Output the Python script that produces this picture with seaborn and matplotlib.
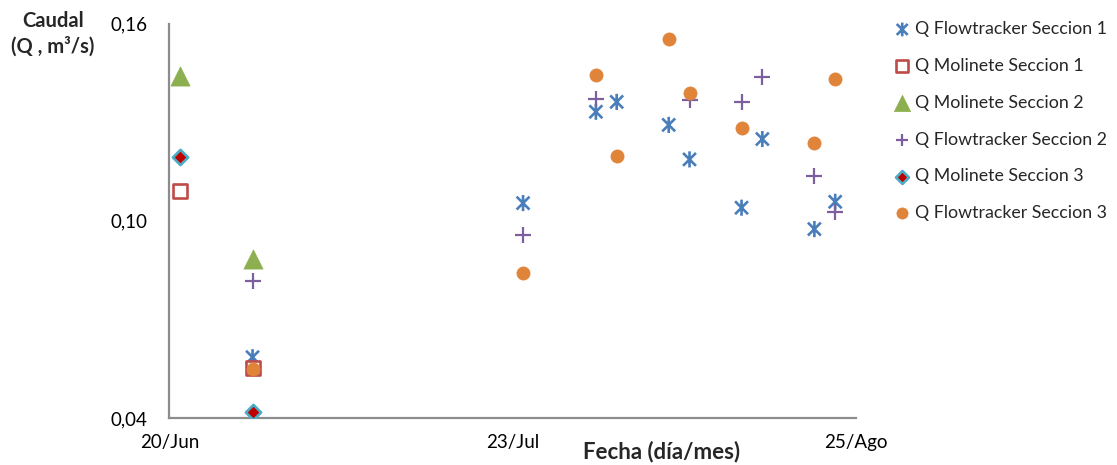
import numpy as np
import pandas as pd
import matplotlib
matplotlib.use("Agg")
import matplotlib.pyplot as plt
from matplotlib.path import Path
import seaborn as sns

# ---- data ----
year = 2013
start_date = "20/06"
end_date = "25/08"
xtick_labels = ["20/Jun", "23/Jul", "25/Ago"]
ytick_labels = ["0,04", "0,10", "0,16"]

ft1_dates = ["28/06", "24/07", "31/07", "02/08", "07/08", "09/08", "14/08", "16/08", "21/08", "23/08"]
ft1_vals = [0.0585, 0.1054, 0.1332, 0.1362, 0.1292, 0.1187, 0.1040, 0.1249, 0.0975, 0.1058]

mol1_dates = ["21/06", "28/06"]
mol1_vals = [0.1091, 0.0553]

mol2_dates = ["21/06", "28/06"]
mol2_vals = [0.1441, 0.0883]

ft2_dates = ["28/06", "24/07", "31/07", "09/08", "14/08", "16/08", "21/08", "23/08"]
ft2_vals = [0.0818, 0.0957, 0.1370, 0.1368, 0.1361, 0.1439, 0.1138, 0.1028]

mol3_dates = ["21/06", "28/06"]
mol3_vals = [0.1194, 0.0419]

ft3_dates = ["28/06", "24/07", "31/07", "02/08", "07/08", "09/08", "14/08", "21/08", "23/08"]
ft3_vals = [0.0549, 0.0841, 0.1444, 0.1198, 0.1553, 0.1390, 0.1284, 0.1237, 0.1432]

series_names = ["Q Flowtracker Seccion 1", "Q Molinete Seccion 1", "Q Molinete Seccion 2",
                "Q Flowtracker Seccion 2", "Q Molinete Seccion 3", "Q Flowtracker Seccion 3"]


def to_dt(s):
    return pd.to_datetime([f"{d}/{year}" for d in s], format="%d/%m/%Y")


t0 = to_dt([start_date])[0]
t1 = to_dt([end_date])[0]


def days(s):
    return np.asarray((to_dt(s) - t0).days, dtype=float)


span = (t1 - t0).days

# ---- style ----
sns.set_theme(style="white")
plt.rcParams["font.family"] = ["Lato", "DejaVu Sans"]

fig = plt.figure(figsize=(11.17, 4.65), dpi=100)
ax = fig.add_axes([169.3 / 1117, 1 - 418 / 465, (856 - 169.3) / 1117, (418 - 23.7) / 465])

ast_path = Path(
    [(0, -1), (0, 1), (-0.8, -0.8), (0.8, 0.8), (-0.8, 0.8), (0.8, -0.8)],
    [Path.MOVETO, Path.LINETO, Path.MOVETO, Path.LINETO, Path.MOVETO, Path.LINETO],
)

blue = "#4A7EBB"
red = "#BE4B48"
green = "#8CB04F"
purple = "#7D5FA0"
dred = "#C00000"
cyan = "#4BACC6"
orange = "#E0843A"

sns.scatterplot(x=days(ft1_dates), y=ft1_vals, marker=ast_path, s=135,
                facecolor="none", edgecolor=blue, linewidth=1.9, ax=ax,
                label=series_names[0], zorder=3)
sns.scatterplot(x=days(mol1_dates), y=mol1_vals, marker="s", s=115,
                facecolor="white", edgecolor=red, linewidth=1.9, ax=ax,
                label=series_names[1], zorder=3)
sns.scatterplot(x=days(mol2_dates), y=mol2_vals, marker="^", s=190,
                color=green, edgecolor=green, linewidth=0.5, ax=ax,
                label=series_names[2], zorder=3)
sns.scatterplot(x=days(ft2_dates), y=ft2_vals, marker="+", s=120,
                color=purple, linewidth=1.6, ax=ax,
                label=series_names[3], zorder=3)
sns.scatterplot(x=days(mol3_dates), y=mol3_vals, marker="D", s=60,
                color=dred, edgecolor=cyan, linewidth=1.9, ax=ax,
                label=series_names[4], zorder=3)
sns.scatterplot(x=days(ft3_dates), y=ft3_vals, marker="o", s=90,
                color=orange, edgecolor=orange, linewidth=0.5, ax=ax,
                label=series_names[5], zorder=3)

# ---- axes ----
ax.set_xlim(0, span)
ax.set_ylim(0.04, 0.16)
ax.set_xticks([0, span / 2, span])
ax.set_xticklabels(xtick_labels)
ax.set_xticks(np.linspace(0, span, 11), minor=True)
ax.set_yticks([0.04, 0.10, 0.16])
ax.set_yticklabels(ytick_labels)
ax.set_yticks([0.07, 0.13], minor=True)

for side in ["top", "right"]:
    ax.spines[side].set_visible(False)
for side in ["left", "bottom"]:
    ax.spines[side].set_color("#8C8C8C")
    ax.spines[side].set_linewidth(1.6)

ax.tick_params(axis="both", which="both", direction="inout", length=9, width=1.4,
               color="#8C8C8C", labelsize=13.5, labelcolor="black")
ax.tick_params(axis="x", which="major", pad=7)
ax.tick_params(axis="y", which="major", pad=11)
ax.set_xlabel("")
ax.set_ylabel("")

fig.text(53 / 1117, 1 - 34 / 465, "Caudal\n(Q , m³/s)", ha="center", va="center",
         fontsize=14.5, fontweight="bold", linespacing=1.3)
fig.text(662 / 1117, 1 - 452 / 465, "Fecha (día/mes)", ha="center", va="center",
         fontsize=16, fontweight="bold")

handles, labels = ax.get_legend_handles_labels()
if ax.legend_:
    ax.legend_.remove()
fig.legend(handles, labels, loc="upper left", bbox_to_anchor=(888 / 1117, 1 - 14 / 465),
           frameon=False, fontsize=12.8, labelspacing=1.17, handlelength=0.8,
           handletextpad=0.3, borderaxespad=0, markerscale=0.85)

fig.savefig("out.png", dpi=100)
